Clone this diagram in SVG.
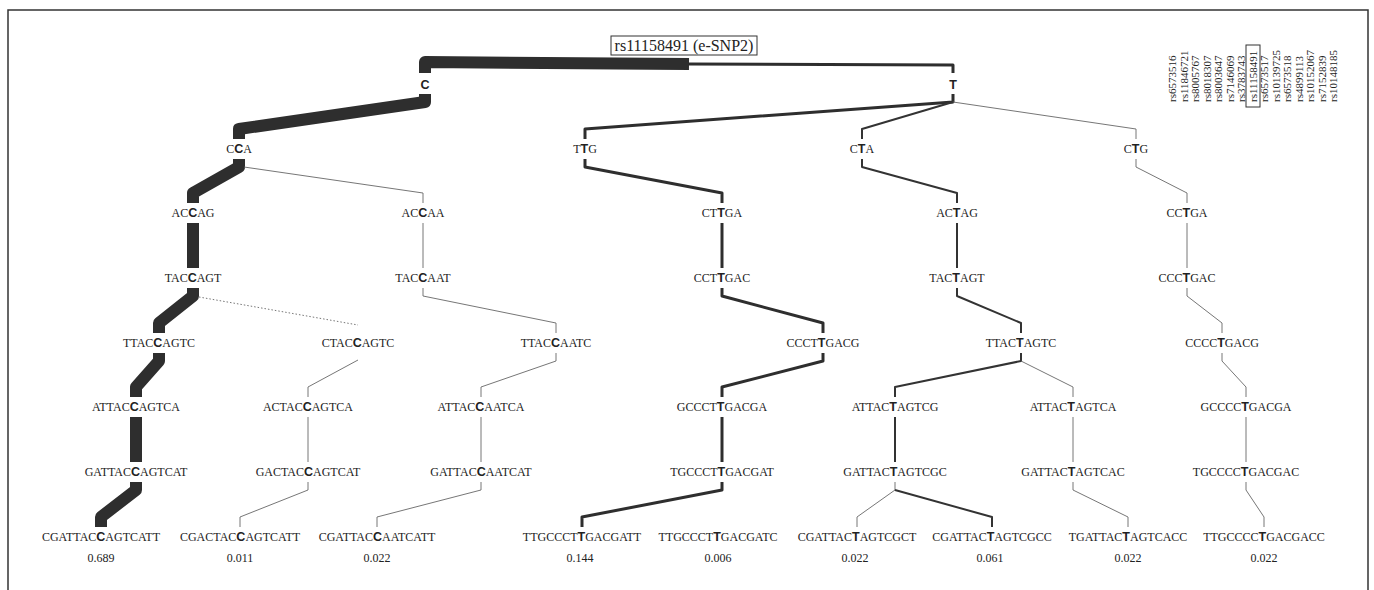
<svg xmlns="http://www.w3.org/2000/svg" width="1374" height="590" viewBox="0 0 1374 590">
<style>
.n{font-family:"Liberation Serif",serif;font-size:12px;fill:#222;text-anchor:middle}
.b{font-family:"Liberation Sans",sans-serif;font-weight:bold;font-size:12.5px}
.f{font-family:"Liberation Serif",serif;font-size:12px;fill:#222;text-anchor:middle}
.rs{font-family:"Liberation Serif",serif;font-size:11px;fill:#222}
.t{font-family:"Liberation Serif",serif;font-size:16px;fill:#222;text-anchor:middle}
.r{font-family:"Liberation Sans",sans-serif;font-weight:bold;font-size:12.5px;fill:#222;text-anchor:middle}
.e12{fill:none;stroke:#2e2e2e;stroke-width:12;stroke-linejoin:round}
.e3{fill:none;stroke:#2e2e2e;stroke-width:3;stroke-linejoin:round}
.e2{fill:none;stroke:#333;stroke-width:2;stroke-linejoin:round}
.e1{fill:none;stroke:#666;stroke-width:0.9}
.dot{fill:none;stroke:#666;stroke-width:0.9;stroke-dasharray:1.5 2}
</style>
<rect width="1374" height="590" fill="#fff"/>
<path d="M8,590 V10 H1368 V590" fill="none" stroke="#333" stroke-width="1.5"/>

<g id="title">
<rect x="611" y="36" width="146" height="19" fill="none" stroke="#333" stroke-width="1"/>
<text class="t" x="684" y="51">rs11158491 (e-SNP2)</text>
</g>

<g id="snp-labels">
<rect x="1246" y="45" width="14" height="62" fill="none" stroke="#333" stroke-width="1"/>
<text class="rs" transform="translate(1176,102) rotate(-90)">rs6573516</text>
<text class="rs" transform="translate(1187.5,102) rotate(-90)">rs11846721</text>
<text class="rs" transform="translate(1199,102) rotate(-90)">rs8005767</text>
<text class="rs" transform="translate(1210.5,102) rotate(-90)">rs8018307</text>
<text class="rs" transform="translate(1222,102) rotate(-90)">rs8003647</text>
<text class="rs" transform="translate(1233.5,102) rotate(-90)">rs7146069</text>
<text class="rs" transform="translate(1245,102) rotate(-90)">rs3783743</text>
<text class="rs" transform="translate(1256.5,102) rotate(-90)">rs11158491</text>
<text class="rs" transform="translate(1268,102) rotate(-90)">rs6573517</text>
<text class="rs" transform="translate(1279.5,102) rotate(-90)">rs10139725</text>
<text class="rs" transform="translate(1291,102) rotate(-90)">rs6573518</text>
<text class="rs" transform="translate(1302.5,102) rotate(-90)">rs4899113</text>
<text class="rs" transform="translate(1314,102) rotate(-90)">rs10152067</text>
<text class="rs" transform="translate(1325.5,102) rotate(-90)">rs7152839</text>
<text class="rs" transform="translate(1337,102) rotate(-90)">rs10148185</text>
</g>

<g id="connectors">
<path class="e12" d="M689,64 L425,62 V73"/>
<path class="e3" d="M689,64 L953,65 V73"/>
<!-- L0 -> L1 -->
<path class="e12" d="M425,94 V102 L239,129 V139"/>
<path class="e3" d="M953,94 V102 L585,129 V139"/>
<path class="e2" d="M953,102 L862,129 V139"/>
<path class="e1" d="M953,102 L1136,129 V139"/>
<!-- L1 -> L2 -->
<path class="e12" d="M239,159 V167 L193,193 V203"/>
<path class="e1" d="M244,167 L423,193 V203"/>
<path class="e3" d="M585,159 V167 L722,193 V203"/>
<path class="e2" d="M862,159 V167 L957,193 V203"/>
<path class="e1" d="M1136,159 V167 L1187,193 V203"/>
<!-- L2 -> L3 -->
<path class="e12" d="M193,223 V268"/>
<path class="e1" d="M423,223 V268"/>
<path class="e3" d="M722,223 V268"/>
<path class="e2" d="M957,223 V268"/>
<path class="e1" d="M1187,223 V268"/>
<!-- L3 -> L4 -->
<path class="e12" d="M193,288 V296 L159,323 V333"/>
<path class="dot" d="M199,297 L358,325"/>
<path class="e1" d="M423,288 V296 L556,323 V333"/>
<path class="e3" d="M722,288 V296 L823,323 V333"/>
<path class="e2" d="M957,288 V296 L1021,323 V333"/>
<path class="e1" d="M1187,288 V296 L1222,323 V333"/>
<!-- L4 -> L5 -> L6 -->
<path class="e12" d="M159,353 V361 L136,387 V397"/>
<path class="e1" d="M358,360 L308,387 V397"/>
<path class="e1" d="M556,353 V361 L481,387 V397"/>
<path class="e3" d="M823,353 V361 L722,387 V397"/>
<path class="e2" d="M1021,353 V361 L895,387 V397"/>
<path class="e1" d="M1021,361 L1073,387 V397"/>
<path class="e1" d="M1222,353 V361 L1246,387 V397"/>
<path class="e12" d="M136,417 V462"/>
<path class="e1" d="M308,417 V462"/>
<path class="e1" d="M481,417 V462"/>
<path class="e3" d="M722,417 V462"/>
<path class="e2" d="M895,417 V462"/>
<path class="e1" d="M1073,417 V462"/>
<path class="e1" d="M1246,417 V462"/>
<!-- L6 -> L7 -->
<path class="e12" d="M136,482 V490 L101,517 V527"/>
<path class="e1" d="M308,482 V490 L240,517 V527"/>
<path class="e1" d="M481,482 V490 L377,517 V527"/>
<path class="e3" d="M722,482 V490 L582,517 V527"/>
<path class="e1" d="M895,482 V490 L857,517 V527"/>
<path class="e2" d="M895,490 L992,517 V527"/>
<path class="e1" d="M1073,482 V490 L1128,517 V527"/>
<path class="e1" d="M1246,482 V490 L1264,517 V527"/>
</g>

<g id="node-C"><text class="r" x="425" y="89">C</text></g>
<g id="node-T"><text class="r" x="953" y="89">T</text></g>

<g id="node-CCA"><text class="n" x="239" y="153">C<tspan class="b">C</tspan>A</text></g>
<g id="node-TTG"><text class="n" x="585" y="153">T<tspan class="b">T</tspan>G</text></g>
<g id="node-CTA"><text class="n" x="862" y="153">C<tspan class="b">T</tspan>A</text></g>
<g id="node-CTG"><text class="n" x="1136" y="153">C<tspan class="b">T</tspan>G</text></g>

<g id="node-ACCAG"><text class="n" x="193" y="217">AC<tspan class="b">C</tspan>AG</text></g>
<g id="node-ACCAA"><text class="n" x="423" y="217">AC<tspan class="b">C</tspan>AA</text></g>
<g id="node-CTTGA"><text class="n" x="722" y="217">CT<tspan class="b">T</tspan>GA</text></g>
<g id="node-ACTAG"><text class="n" x="957" y="217">AC<tspan class="b">T</tspan>AG</text></g>
<g id="node-CCTGA"><text class="n" x="1187" y="217">CC<tspan class="b">T</tspan>GA</text></g>

<g id="node-TACCAGT"><text class="n" x="193" y="282">TAC<tspan class="b">C</tspan>AGT</text></g>
<g id="node-TACCAAT"><text class="n" x="423" y="282">TAC<tspan class="b">C</tspan>AAT</text></g>
<g id="node-CCTTGAC"><text class="n" x="722" y="282">CCT<tspan class="b">T</tspan>GAC</text></g>
<g id="node-TACTAGT"><text class="n" x="957" y="282">TAC<tspan class="b">T</tspan>AGT</text></g>
<g id="node-CCCTGAC"><text class="n" x="1187" y="282">CCC<tspan class="b">T</tspan>GAC</text></g>

<g id="node-TTACCAGTC"><text class="n" x="159" y="347">TTAC<tspan class="b">C</tspan>AGTC</text></g>
<g id="node-CTACCAGTC"><text class="n" x="358" y="347">CTAC<tspan class="b">C</tspan>AGTC</text></g>
<g id="node-TTACCAATC"><text class="n" x="556" y="347">TTAC<tspan class="b">C</tspan>AATC</text></g>
<g id="node-CCCTTGACG"><text class="n" x="823" y="347">CCCT<tspan class="b">T</tspan>GACG</text></g>
<g id="node-TTACTAGTC"><text class="n" x="1021" y="347">TTAC<tspan class="b">T</tspan>AGTC</text></g>
<g id="node-CCCCTGACG"><text class="n" x="1222" y="347">CCCC<tspan class="b">T</tspan>GACG</text></g>

<g id="node-ATTACCAGTCA"><text class="n" x="136" y="411">ATTAC<tspan class="b">C</tspan>AGTCA</text></g>
<g id="node-ACTACCAGTCA"><text class="n" x="308" y="411">ACTAC<tspan class="b">C</tspan>AGTCA</text></g>
<g id="node-ATTACCAATCA"><text class="n" x="481" y="411">ATTAC<tspan class="b">C</tspan>AATCA</text></g>
<g id="node-GCCCTTGACGA"><text class="n" x="722" y="411">GCCCT<tspan class="b">T</tspan>GACGA</text></g>
<g id="node-ATTACTAGTCG"><text class="n" x="895" y="411">ATTAC<tspan class="b">T</tspan>AGTCG</text></g>
<g id="node-ATTACTAGTCA"><text class="n" x="1073" y="411">ATTAC<tspan class="b">T</tspan>AGTCA</text></g>
<g id="node-GCCCCTGACGA"><text class="n" x="1246" y="411">GCCCC<tspan class="b">T</tspan>GACGA</text></g>

<g id="node-GATTACCAGTCAT"><text class="n" x="136" y="476">GATTAC<tspan class="b">C</tspan>AGTCAT</text></g>
<g id="node-GACTACCAGTCAT"><text class="n" x="308" y="476">GACTAC<tspan class="b">C</tspan>AGTCAT</text></g>
<g id="node-GATTACCAATCAT"><text class="n" x="481" y="476">GATTAC<tspan class="b">C</tspan>AATCAT</text></g>
<g id="node-TGCCCTTGACGAT"><text class="n" x="722" y="476">TGCCCT<tspan class="b">T</tspan>GACGAT</text></g>
<g id="node-GATTACTAGTCGC"><text class="n" x="895" y="476">GATTAC<tspan class="b">T</tspan>AGTCGC</text></g>
<g id="node-GATTACTAGTCAC"><text class="n" x="1073" y="476">GATTAC<tspan class="b">T</tspan>AGTCAC</text></g>
<g id="node-TGCCCCTGACGAC"><text class="n" x="1246" y="476">TGCCCC<tspan class="b">T</tspan>GACGAC</text></g>

<g id="node-CGATTACCAGTCATT"><text class="n" x="101" y="541">CGATTAC<tspan class="b">C</tspan>AGTCATT</text><text class="f" x="101" y="562">0.689</text></g>
<g id="node-CGACTACCAGTCATT"><text class="n" x="240" y="541">CGACTAC<tspan class="b">C</tspan>AGTCATT</text><text class="f" x="240" y="562">0.011</text></g>
<g id="node-CGATTACCAATCATT"><text class="n" x="377" y="541">CGATTAC<tspan class="b">C</tspan>AATCATT</text><text class="f" x="377" y="562">0.022</text></g>
<g id="node-TTGCCCTTGACGATT"><text class="n" x="582" y="541">TTGCCCT<tspan class="b">T</tspan>GACGATT</text><text class="f" x="580" y="562">0.144</text></g>
<g id="node-TTGCCCTTGACGATC"><text class="n" x="718" y="541">TTGCCCT<tspan class="b">T</tspan>GACGATC</text><text class="f" x="718" y="562">0.006</text></g>
<g id="node-CGATTACTAGTCGCT"><text class="n" x="857" y="541">CGATTAC<tspan class="b">T</tspan>AGTCGCT</text><text class="f" x="855" y="562">0.022</text></g>
<g id="node-CGATTACTAGTCGCC"><text class="n" x="992" y="541">CGATTAC<tspan class="b">T</tspan>AGTCGCC</text><text class="f" x="990" y="562">0.061</text></g>
<g id="node-TGATTACTAGTCACC"><text class="n" x="1128" y="541">TGATTAC<tspan class="b">T</tspan>AGTCACC</text><text class="f" x="1128" y="562">0.022</text></g>
<g id="node-TTGCCCCTGACGACC"><text class="n" x="1264" y="541">TTGCCCC<tspan class="b">T</tspan>GACGACC</text><text class="f" x="1264" y="562">0.022</text></g>
</svg>
